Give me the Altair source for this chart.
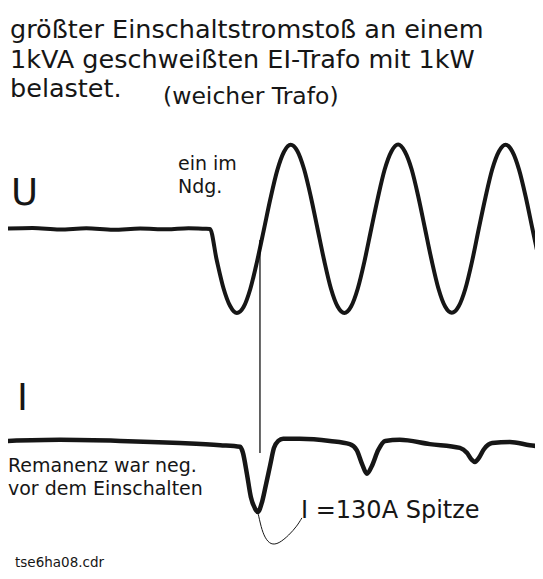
import altair as alt
import pandas as pd

# ---- data ----
# voltage trace: time in ms (0 = switching instant), volts
u_t = [-37.6, -33.0, -28.0, -23.0, -18.0, -13.0, -8.0, -4.0, -1.0, 0.0,
       1.25, 2.5, 3.75, 5.0, 6.25, 7.5, 8.75, 10.0,
       11.25, 12.5, 13.75, 15.0, 16.25, 17.5, 18.75, 20.0,
       21.25, 22.5, 23.75, 25.0, 26.25, 27.5, 28.75, 30.0,
       31.25, 32.5, 33.75, 35.0, 36.25, 37.5, 38.75, 40.0,
       41.25, 42.5, 43.75, 45.0, 46.25, 47.5, 48.75, 50.0,
       51.25, 52.5, 53.75, 55.0, 56.25, 57.5, 58.75, 60.0, 61.25]
u_v = [2, 4, -2, 3, -3, 2, -1, 3, 1, 0,
       -120, -228, -298, -325, -302, -232, -126, -5,
       118, 226, 298, 326, 302, 232, 126, 2,
       -122, -230, -300, -325, -300, -230, -124, 0,
       122, 230, 300, 327, 300, 232, 126, 2,
       -122, -230, -300, -324, -300, -232, -126, 0,
       122, 230, 300, 326, 300, 230, 124, 0, -122]

# current trace: time in ms, amperes
i_t = [-37.6, -27.9, -16.7, -5.6, 1.9, 5.6, 6.1, 6.9, 7.6, 8.4, 8.9,
       9.7, 10.4, 11.2, 11.9, 12.7, 13.6, 16.7, 22.3, 26.0, 27.3, 28.3,
       29.2, 30.1, 31.3, 32.6, 35.3, 40.9, 46.5, 47.8, 48.7, 49.3, 50.0,
       51.0, 52.5, 55.8, 59.5, 62.0]
i_a = [2, 4, 2, -2, -6, -9, -19, -61, -102, -124, -130,
       -111, -80, -43, -11, 2, 6, 6, 2, -4, -15, -41,
       -59, -45, -15, 2, 4, -4, -11, -20, -33, -37, -30,
       -13, -2, 0, -6, -9]

# leader curve from the current peak to its label
c_t = [8.9, 9.5, 10.2, 11.3, 12.8, 14.7, 16.2, 17.1]
c_a = [-130, -158, -178, -191, -189, -173, -156, -141]

switch_line_t = 9.3

df_u = pd.DataFrame({"t": u_t, "u": u_v})
df_i = pd.DataFrame({"t": i_t, "i": i_a})
df_c = pd.DataFrame({"t": c_t, "i": c_a})

T_DOM = [-37.58, 60.47]
U_DOM = [-1323, 855]
I_DOM = [-239.6, 806]

xenc = alt.X("t:Q", scale=alt.Scale(domain=T_DOM, nice=False, zero=False), axis=None)
INK = "#161616"
FONT = "DejaVu Sans"

u_line = alt.Chart(df_u).mark_line(color=INK, strokeWidth=4, interpolate="monotone", clip=True).encode(
    x=xenc,
    y=alt.Y("u:Q", scale=alt.Scale(domain=U_DOM, nice=False, zero=False), axis=None),
)
i_line = alt.Chart(df_i).mark_line(color=INK, strokeWidth=4.5, interpolate="monotone", clip=True).encode(
    x=xenc,
    y=alt.Y("i:Q", scale=alt.Scale(domain=I_DOM, nice=False, zero=False), axis=None),
)
c_line = alt.Chart(df_c).mark_line(color=INK, strokeWidth=1, interpolate="basis").encode(
    x=xenc,
    y=alt.Y("i:Q", scale=alt.Scale(domain=I_DOM, nice=False, zero=False), axis=None),
)
rule = alt.Chart(pd.DataFrame({"t": [switch_line_t]})).mark_rule(color="#000000", strokeWidth=1.2).encode(
    x=xenc,
    y=alt.value(232),
    y2=alt.value(445),
)


def txt(s, x, y, size, weight="normal"):
    return alt.Chart(alt.Data(values=[{}])).mark_text(
        text=s, x=x, y=y, align="left", baseline="alphabetic",
        font=FONT, fontSize=size, fontWeight=weight, color=INK,
    )


texts = [
    txt("größter Einschaltstromstoß an einem", 2, 30, 25.5),
    txt("1kVA geschweißten EI-Trafo mit 1kW", 2, 59.5, 25.5),
    txt("belastet.", 2, 89, 25.5),
    txt("(weicher Trafo)", 155, 96, 23.5),
    txt("U", 3, 197, 37),
    txt("ein im", 170, 162, 19),
    txt("Ndg.", 170, 185, 19),
    txt("I", 9, 402, 37),
    txt("Remanenz war neg.", 0, 464, 19),
    txt("vor dem Einschalten", 0, 487, 19),
    txt("I =130A Spitze", 293, 510, 24),
    txt("tse6ha08.cdr", 7, 559, 13.5),
]

chart = alt.layer(u_line, i_line, c_line, rule, *texts).resolve_scale(y="independent").properties(
    width=527, height=563, padding=0, autosize=alt.AutoSizeParams(type="none"),
).configure_view(stroke=None)

chart.save("out.html", embed_options={"renderer": "svg", "actions": False})
